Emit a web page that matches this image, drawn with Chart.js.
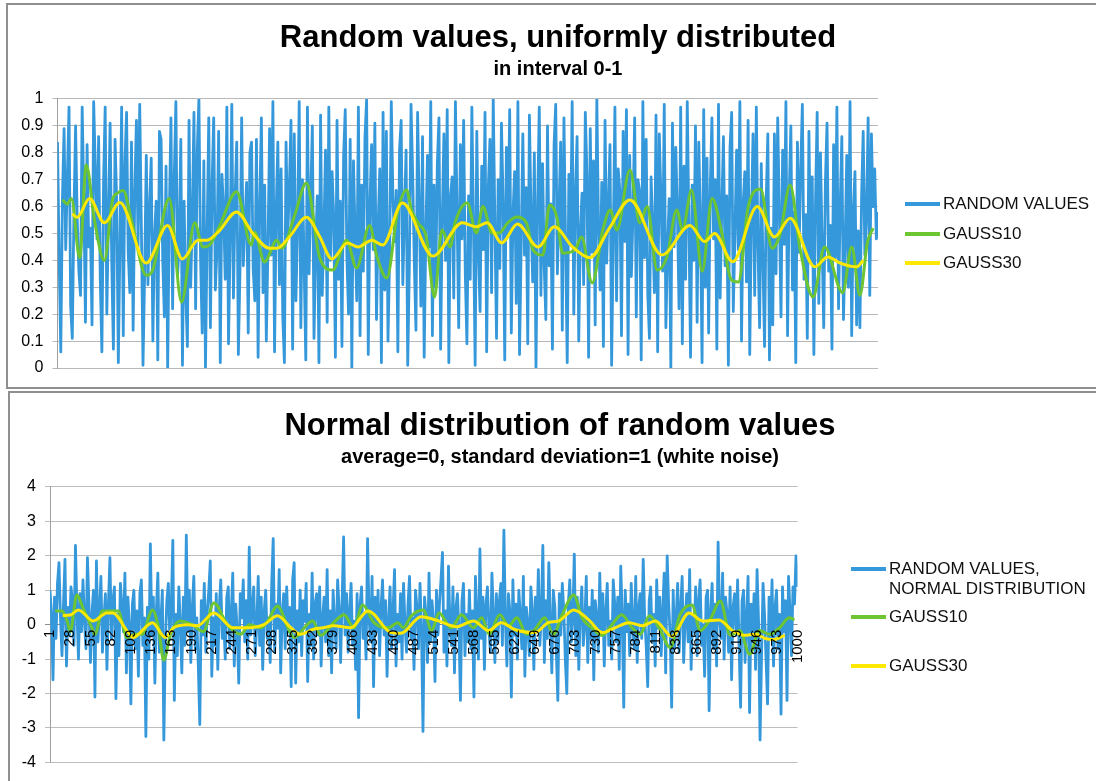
<!DOCTYPE html>
<html><head><meta charset="utf-8">
<script src="https://cdn.jsdelivr.net/npm/chart.js@4.4.1/dist/chart.umd.min.js"></script>
<style>
html,body{margin:0;padding:0;background:#fff;}
body{width:1096px;height:781px;overflow:hidden;position:relative;font-family:"Liberation Sans",Arial,sans-serif;}
.frame{position:absolute;border:2px solid #8f8f8f;overflow:hidden;background:#fff}
.frame canvas{display:block}
.leg{position:absolute;display:flex;align-items:flex-start;font-size:17px;line-height:20px;color:#111;white-space:pre;z-index:5}
.sw{display:inline-block;width:35px;height:4px;margin-top:8px;margin-right:3px}
</style></head><body>
<div class="frame" style="left:6px;top:3px;width:1100px;height:382px"><canvas id="c1" width="1100" height="382"></canvas></div>
<div class="frame" style="left:8px;top:391px;width:1100px;height:400px"><canvas id="c2" width="1100" height="388"></canvas></div>
<script>
// ---------------- DATA ----------------
const topTitle = "Random values, uniformly distributed";
const topSubtitle = "in interval 0-1";
const bottomTitle = "Normal distribution of random values";
const bottomSubtitle = "average=0, standard deviation=1 (white noise)";

const topSeriesNames = ["RANDOM VALUES", "GAUSS10", "GAUSS30"];
const bottomSeriesNames = ["RANDOM VALUES,\nNORMAL DISTRIBUTION", "GAUSS10", "GAUSS30"];

const topYTicks = [0,0.1,0.2,0.3,0.4,0.5,0.6,0.7,0.8,0.9,1];
const bottomYTicks = [-4,-3,-2,-1,0,1,2,3,4];
const xTickLabels = [1,28,55,82,109,136,163,190,217,244,271,298,325,352,379,406,433,460,487,514,541,568,595,622,649,676,703,730,757,784,811,838,865,892,919,946,973,1000];

// uniform random values (sampled evenly along index 1..1000)
const topRandom = [
0.84,0.41,0.06,0.63,0.89,0.44,0.71,0.97,0.23,0.11,0.58,0.90,0.55,0.36,0.27,0.97,0.64,0.17,0.83,0.45,
0.52,0.16,0.99,0.74,0.48,0.86,0.33,0.06,0.69,0.97,0.20,0.57,0.91,0.39,0.07,0.85,0.62,0.02,0.47,0.97,
0.12,0.76,0.95,0.43,0.28,0.84,0.14,0.66,0.92,0.45,0.98,0.53,0.01,0.35,0.79,0.31,0.60,0.78,0.10,0.49,
0.62,0.03,0.88,0.85,0.40,0.19,0.75,0.00,0.57,0.93,0.22,0.71,0.99,0.34,0.46,0.85,0.01,0.62,0.27,0.08,
0.92,0.30,0.56,0.95,0.22,0.81,1.00,0.41,0.13,0.77,0.00,0.50,0.93,0.15,0.68,0.93,0.29,0.44,0.88,0.02,
0.72,0.59,0.33,0.97,0.09,0.47,0.98,0.26,0.63,0.84,0.05,0.37,0.93,0.38,0.54,0.69,0.13,0.80,0.84,0.37,
0.25,0.85,0.04,0.61,0.93,0.28,0.68,0.10,0.45,0.89,0.42,0.99,0.06,0.58,0.84,0.31,0.74,0.19,0.02,0.84,
0.48,0.67,0.92,0.07,0.87,0.25,0.53,0.99,0.15,0.70,0.38,0.03,0.97,0.35,0.64,0.90,0.11,0.46,0.64,0.02,
0.94,0.27,0.51,0.81,0.17,0.97,0.40,0.73,0.56,0.04,0.92,0.33,0.62,0.08,0.79,0.96,0.41,0.20,0.85,0.00,
0.77,0.49,0.25,0.97,0.12,0.68,0.36,0.86,1.00,0.05,0.60,0.83,0.44,0.91,0.18,0.53,0.74,0.02,0.95,0.29,
0.88,0.10,0.42,0.99,0.63,0.47,0.66,0.06,0.81,0.92,0.31,0.57,0.81,0.01,0.39,0.98,0.72,0.39,0.14,0.95,
0.61,0.23,0.86,0.04,0.50,0.79,0.45,0.99,0.12,0.68,0.30,0.76,0.93,0.07,0.55,0.87,0.40,0.96,0.02,0.64,
0.71,0.26,0.99,0.58,0.15,0.83,0.48,0.92,0.35,0.09,0.64,0.33,0.97,0.52,0.01,0.88,0.43,0.21,0.75,0.44,
0.95,0.06,0.67,0.85,0.28,1.00,0.54,0.11,0.70,0.37,0.91,0.62,0.03,0.82,0.49,0.96,0.13,0.57,0.73,0.24,
0.99,0.05,0.46,0.87,0.42,0.67,0.09,0.94,0.56,0.32,0.80,0.00,0.61,0.97,0.27,0.76,0.38,0.18,0.90,0.38,
0.61,0.07,0.83,0.98,0.35,0.59,0.84,0.14,0.93,0.46,0.02,0.72,0.46,0.99,0.20,0.65,0.86,0.10,0.51,0.65,
0.31,0.95,0.72,0.04,0.89,0.43,0.77,0.16,1.00,0.53,0.29,0.69,0.08,0.92,0.39,0.60,0.83,0.01,0.48,0.97,
0.25,0.74,0.66,0.12,0.88,0.47,0.96,0.05,0.79,0.34,0.57,0.93,0.19,0.70,0.66,0.03,0.99,0.41,0.85,0.27,
0.11,0.71,0.52,0.28,0.94,0.06,0.87,0.63,0.36,0.98,0.15,0.44,0.63,0.00,0.91,0.45,0.82,0.58,0.22,0.97,
0.09,0.75,0.33,0.99,0.53,0.04,0.68,0.40,0.90,0.17,0.84,0.55,0.02,0.96,0.30,0.78,0.13,0.67,0.93,0.48,
0.70,0.07,0.98,0.26,0.59,0.86,0.38,0.64,0.01,0.82,0.95,0.21,0.50,0.81,0.44,0.99,0.10,0.61,0.73,0.32,
0.92,0.05,0.55,0.87,0.27,0.97,0.45,0.15,0.76,0.40,0.08,0.62,0.87,0.03,0.52,0.16,0.87,0.35,0.93,0.58,
0.19,0.81,0.46,0.99,0.12,0.64,0.90,0.29,0.58,0.02,0.84,0.43,0.74,0.98,0.33,0.57,0.11,0.88,0.39,0.71,
0.05,0.62,0.95,0.24,0.80,0.47,0.15,0.69,0.91,0.36,0.53,0.07,0.83,0.41,0.97,0.22,0.60,0.86,0.18,0.45,
0.79,0.30,0.99,0.12,0.58,0.73,0.16,0.51,0.15,0.63,0.88,0.42,0.56,0.93,0.27,0.87,0.60,0.74,0.48,0.58
];
const topG10Idx = [7,13,18,28,36,46,58,68,74,81,91,109,117,137,152,168,178,186,198,219,237,241,253,268,274,290,304,320,336,353,365,381,390,402,415,426,432,440,450,460,469,479,485,500,511,519,530,539,549,560,572,580,592,600,609,616,631,639,652,665,674,682,698,710,719,731,743,755,762,773,786,798,810,821,830,842,857,871,881,893,905,921,935,957,968,978,987,994];
const topG10Val = [0.625,0.61,0.63,0.41,0.755,0.55,0.40,0.625,0.65,0.66,0.55,0.345,0.365,0.63,0.245,0.54,0.45,0.457,0.525,0.655,0.457,0.505,0.394,0.475,0.445,0.57,0.688,0.413,0.364,0.475,0.372,0.53,0.413,0.335,0.58,0.662,0.587,0.539,0.487,0.264,0.513,0.45,0.539,0.613,0.502,0.60,0.502,0.502,0.539,0.561,0.539,0.439,0.42,0.606,0.561,0.427,0.439,0.487,0.316,0.513,0.587,0.513,0.736,0.539,0.60,0.364,0.413,0.587,0.513,0.662,0.36,0.63,0.50,0.33,0.32,0.60,0.665,0.445,0.50,0.68,0.445,0.264,0.45,0.28,0.45,0.27,0.465,0.52];
const topG30Idx = [19,25,40,58,77,109,135,153,172,183,198,219,239,259,268,284,304,320,335,354,367,384,397,421,458,494,511,524,542,561,586,606,628,649,673,698,737,771,789,801,823,853,874,893,923,939,954,974,982];
const topG30Val = [0.573,0.56,0.63,0.54,0.615,0.39,0.53,0.405,0.475,0.475,0.51,0.58,0.50,0.445,0.445,0.49,0.56,0.49,0.405,0.465,0.45,0.475,0.457,0.613,0.416,0.54,0.525,0.54,0.465,0.535,0.45,0.525,0.45,0.41,0.52,0.625,0.42,0.53,0.47,0.50,0.395,0.60,0.487,0.557,0.376,0.413,0.39,0.376,0.40];

// normal random values (sampled evenly along index 1..1000)
const bottomRandom = [
1.0,0.3,-1.6,0.8,-0.4,1.2,1.8,0.2,-0.9,0.6,1.9,-1.2,0.5,-0.3,1.1,0.7,-0.6,2.3,0.4,-1.0,
0.9,-0.2,1.3,0.1,-0.7,1.95,0.6,-1.1,0.3,1.0,-2.1,1.85,-0.5,0.4,1.4,-0.8,0.2,0.9,-1.3,0.6,
1.95,-0.4,0.7,1.1,-2.15,0.3,-0.9,1.2,0.5,-0.2,1.5,-1.4,0.8,0.0,-2.3,0.6,1.0,-0.7,0.4,-1.5,
0.9,1.3,-0.6,0.2,-3.25,0.5,-1.0,2.35,-0.3,0.8,-1.7,0.4,1.5,-0.8,0.1,1.0,-3.35,-0.5,0.7,1.2,
-0.4,0.6,2.45,-2.2,0.3,-0.9,1.1,0.0,-1.4,0.8,-0.6,2.6,-0.2,1.0,-1.1,0.5,1.4,-0.7,0.2,-1.2,
-2.9,0.7,-0.3,1.2,-0.8,0.4,1.0,1.85,-1.5,0.2,-0.6,0.9,-1.3,0.5,1.3,-0.4,0.1,-1.0,0.8,1.1,
-0.7,0.3,1.5,-1.2,0.6,-0.2,-1.7,0.9,0.2,1.3,-0.5,0.7,-1.0,2.25,-0.3,0.5,1.1,-0.9,0.0,1.4,
-0.6,0.8,-1.3,0.4,1.0,-0.4,0.2,-1.1,1.2,2.5,-0.8,0.6,-0.1,1.6,-1.4,0.3,0.9,-0.7,1.1,-0.2,
0.5,-1.8,1.3,1.8,-1.7,0.4,-0.5,1.0,-0.9,0.7,0.1,1.2,-1.65,0.3,-0.6,1.5,-1.0,0.6,0.9,-0.3,
1.1,-1.2,0.2,0.8,-0.5,1.6,-0.9,0.4,-1.4,1.0,0.0,-0.7,1.3,0.5,-1.1,0.7,2.55,-0.3,0.9,-0.8,
0.4,1.2,-0.6,0.1,-1.3,0.9,-2.7,0.6,1.1,-0.4,0.3,-1.0,2.5,0.2,-0.5,1.4,-1.8,0.8,-0.2,1.0,
-0.9,0.5,1.3,-0.3,0.7,-1.5,0.1,1.1,-0.7,0.4,1.6,-1.2,0.3,-0.5,0.9,-1.0,1.2,0.0,-0.8,0.6,
1.4,-0.4,0.2,-1.3,1.0,0.5,-0.7,1.2,-0.2,-3.1,0.8,0.3,-1.1,1.5,-0.5,0.7,0.1,-1.65,1.0,-0.3,
0.6,1.3,2.1,-0.8,0.4,-1.2,1.7,0.0,-0.6,1.1,-1.4,0.5,0.9,-0.2,-2.2,0.7,1.2,-0.9,0.3,-0.5,
1.0,-0.7,0.4,-2.1,1.4,0.2,-1.0,2.2,-0.4,0.8,-1.3,0.6,1.1,-0.1,-0.8,1.5,0.3,-1.1,0.9,-0.5,
0.7,1.2,-0.6,2.75,0.1,-1.2,0.9,0.4,-2.1,1.3,-0.3,0.6,-1.0,1.0,0.2,-0.7,1.4,-1.5,0.5,0.0,
-0.9,1.1,0.4,-1.3,0.8,-0.2,1.6,-0.6,0.3,2.3,-1.1,0.7,-0.4,1.8,0.1,-1.4,1.0,0.5,-0.8,-2.2,
0.9,-0.3,1.2,0.4,-1.0,-2.0,0.6,1.3,-0.5,0.2,2.05,-0.9,0.8,-1.3,0.4,1.1,-0.6,0.0,1.4,-1.1,
0.5,-0.4,1.0,-1.6,0.7,0.2,-0.8,1.5,-0.3,0.9,-1.2,0.4,1.2,-0.6,0.1,-1.0,1.3,0.6,-0.5,0.8,
-1.3,1.7,0.3,-2.4,1.0,-0.2,0.6,-0.9,1.2,0.0,-0.7,1.4,-1.1,0.5,0.9,-0.4,1.9,0.2,-0.6,-1.8,
0.7,1.1,-0.5,0.3,-1.2,1.3,-0.1,0.8,-0.9,0.4,1.5,-1.4,2.0,0.6,-0.3,-2.4,1.0,-0.7,0.2,1.2,
-0.8,0.5,1.4,-1.1,0.1,0.9,-0.5,1.6,-1.3,0.3,-0.2,1.1,-0.9,0.7,1.3,-0.6,0.0,-1.5,0.8,1.0,
-2.5,0.4,1.2,-0.7,0.6,-1.2,2.4,0.2,-0.4,1.5,-1.0,0.8,0.3,-0.8,1.1,-1.6,0.5,0.9,-0.3,1.3,
-0.6,-2.4,0.7,1.0,-1.1,0.2,1.4,-2.55,0.6,-0.5,0.9,-1.3,1.6,0.1,-3.35,-0.9,1.2,0.3,-1.0,-2.3,
0.8,-0.4,1.3,-1.2,0.5,1.0,-0.7,0.3,-2.6,1.1,-0.2,0.7,-2.2,1.4,0.4,-0.9,1.1,0.6,2.0,1.1
];
const botG10Idx = [8,17,24,28,37,45,57,61,71,81,92,104,115,124,138,146,153,162,175,191,206,220,238,256,267,283,292,305,319,327,352,363,380,394,407,419,434,453,466,473,484,500,511,521,537,551,567,578,588,602,614,625,638,649,662,674,685,701,712,725,739,752,765,779,790,802,815,830,843,859,870,883,897,910,923,936,949,963,976,989,996];
const botG10Val = [0.4,0.4,0.1,-0.2,0.86,0.49,-0.09,-0.28,0.4,0.4,0.4,-0.37,-0.28,-0.28,0.43,-0.09,-1.03,-0.28,0.11,0.0,-0.2,0.63,0.0,-0.28,0.0,-0.09,0.11,0.54,-0.09,-0.37,0.11,-0.31,0.06,0.29,-0.09,0.57,0.06,-0.09,0.06,-0.09,0.26,0.43,-0.17,0.34,-0.09,0.29,-0.09,0.2,-0.28,0.29,-0.03,0.2,-0.28,-0.14,0.2,-0.28,0.26,0.86,0.2,-0.09,-0.31,0.0,0.29,-0.09,-0.28,0.26,-0.09,-0.66,0.29,0.57,-0.17,0.14,0.69,-0.31,-0.17,-0.86,-0.17,-0.28,-0.09,0.2,0.14];
const botG30Idx = [18,28,39,59,77,85,104,112,138,155,166,185,198,220,246,269,287,305,323,336,352,366,380,403,426,457,470,497,520,544,567,587,604,622,649,667,681,701,721,739,756,775,792,810,832,855,873,895,913,929,944,957,967,983];
const botG30Val = [0.27,0.28,0.43,0.11,0.34,0.34,-0.18,-0.37,0.06,-0.37,-0.09,0.0,-0.03,0.34,-0.09,-0.09,0.0,0.26,-0.09,-0.28,-0.14,-0.09,-0.03,-0.09,0.4,-0.23,-0.25,0.23,0.11,-0.06,0.11,-0.17,0.06,-0.14,-0.23,0.06,0.11,0.43,0.14,-0.23,-0.09,0.06,-0.03,0.11,-0.34,0.34,0.11,0.14,-0.17,-0.31,-0.28,-0.4,-0.43,-0.31];

// ---------------- STYLE ----------------
const BLUE = '#3598db', GREEN = '#6cc531', YELLOW = '#ffe800';
const FONT = '"Liberation Sans", Arial, sans-serif';
Chart.defaults.font.family = FONT;
Chart.defaults.color = '#000';

function pts(xs, ys){ return ys.map((y,i)=>({x:xs[i], y:y})); }
function spread(vals){ const n = vals.length; return vals.map((y,i)=>({x:1 + i*999/(n-1), y:y})); }

function datasets(names, rnd, g10x, g10y, g30x, g30y){
  return [
    {label:names[0], data:spread(rnd), borderColor:BLUE, borderWidth:2.8, pointRadius:0, tension:0, borderJoinStyle:'round', order:3},
    {label:names[1], data:pts(g10x,g10y), borderColor:GREEN, borderWidth:3, pointRadius:0, cubicInterpolationMode:'monotone', order:2},
    {label:names[2], data:pts(g30x,g30y), borderColor:YELLOW, borderWidth:3, pointRadius:0, cubicInterpolationMode:'monotone', order:1}
  ];
}
function plugins(title, sub){
  return {
    legend:{display:false}, tooltip:{enabled:false},
    title:{display:true, text:title, color:'#000', font:{size:31, weight:'bold'}, padding:{top:14.7, bottom:0}},
    subtitle:{display:true, text:sub, color:'#000', font:{size:20, weight:'bold'}, padding:{top:0.7, bottom:17.4}}
  };
}
function padAxis(w){
  return {type:'linear', position:'right', grid:{display:false}, ticks:{display:false}, border:{display:false}, afterFit:s=>{s.width=w;}};
}

new Chart(document.getElementById('c1'), {
  type:'line',
  data:{datasets:datasets(topSeriesNames, topRandom, topG10Idx, topG10Val, topG30Idx, topG30Val)},
  options:{
    responsive:false, animation:false, events:[],
    layout:{padding:{left:0, right:0, top:0, bottom:19}},
    plugins:plugins(topTitle, topSubtitle),
    scales:{
      x:{type:'linear', min:1, max:1000, display:false},
      y:{min:0, max:1,
         afterBuildTicks:s=>{s.ticks = topYTicks.map(v=>({value:v}));},
         ticks:{font:{size:16}, color:'#000', padding:9, callback:v=>String(Math.round(v*10)/10)},
         grid:{color:'#b8b8b8', lineWidth:1, tickLength:5},
         border:{display:true, color:'#a0a0a0', width:1},
         afterFit:s=>{s.width=49.5;}},
      pad:padAxis(230)
    }
  }
});

new Chart(document.getElementById('c2'), {
  type:'line',
  data:{datasets:datasets(bottomSeriesNames, bottomRandom, botG10Idx, botG10Val, botG30Idx, botG30Val)},
  options:{
    responsive:false, animation:false, events:[],
    layout:{padding:{left:0, right:0, top:0, bottom:14}},
    plugins:plugins(bottomTitle, bottomSubtitle),
    scales:{
      x:{type:'linear', min:1, max:1000, position:{y:0},
         afterBuildTicks:s=>{s.ticks = xTickLabels.map(v=>({value:v}));},
         grid:{display:false, drawTicks:false}, border:{display:false},
         ticks:{z:1, autoSkip:false, minRotation:90, maxRotation:90, font:{size:15}, color:'#000', padding:5, callback:v=>String(v)}},
      y:{min:-4, max:4,
         afterBuildTicks:s=>{s.ticks = bottomYTicks.map(v=>({value:v}));},
         ticks:{font:{size:16}, color:'#000', padding:9, callback:v=>String(v)},
         grid:{color:c=>(c.tick && c.tick.value===0) ? '#8c8c8c' : '#bdbdbd', lineWidth:1, tickLength:5},
         border:{display:true, color:'#a0a0a0', width:1},
         afterFit:s=>{s.width=40;}},
      pad:padAxis(312.5)
    }
  }
});

// ---------------- LEGENDS (HTML text) ----------------
function legend(names, left, centers){
  const colors = [BLUE, GREEN, YELLOW];
  names.forEach((n,i)=>{
    const d = document.createElement('div');
    d.className = 'leg';
    d.style.left = left + 'px';
    d.style.top = (centers[i] - 10) + 'px';
    const sw = document.createElement('span'); sw.className = 'sw'; sw.style.background = colors[i];
    const tx = document.createElement('span'); tx.textContent = n;
    d.appendChild(sw); d.appendChild(tx);
    document.body.appendChild(d);
  });
}
legend(topSeriesNames, 905, [204, 234, 263]);
legend(bottomSeriesNames, 851, [569, 617, 666]);
</script>
</body></html>
